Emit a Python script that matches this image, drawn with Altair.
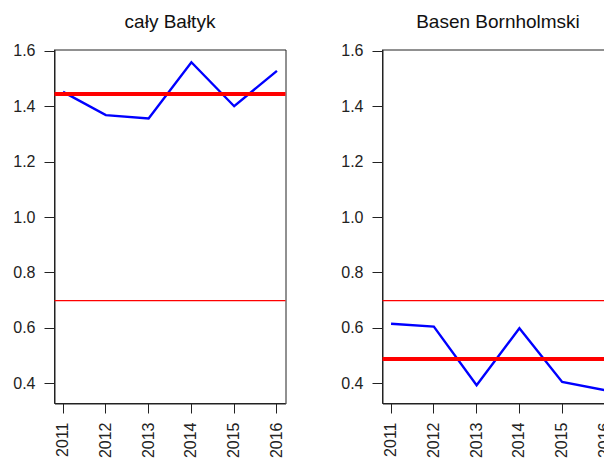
import altair as alt
import pandas as pd

years = [2011, 2012, 2013, 2014, 2015, 2016]
baltyk = [1.454, 1.370, 1.358, 1.561, 1.402, 1.530]
bornholm = [0.616, 0.606, 0.394, 0.600, 0.406, 0.376]
titles = ["cały Bałtyk", "Basen Bornholmski"]
mean_lines = [1.446, 0.489]
threshold = 0.7
y_ticks = [0.4, 0.6, 0.8, 1.0, 1.2, 1.4, 1.6]

FONT = "Liberation Sans"
ydom = [0.328, 1.607]
xdom = [2010.8, 2016.2]


def panel(title, values, mean_val):
    df = pd.DataFrame({"rok": years, "wartosc": values})
    x = alt.X("rok:Q", scale=alt.Scale(domain=xdom, nice=False, zero=False),
              axis=alt.Axis(values=years, format="d", labelAngle=270, title=None))
    y = alt.Y("wartosc:Q", scale=alt.Scale(domain=ydom, nice=False, zero=False),
              axis=alt.Axis(values=y_ticks, format=".1f", title=None))
    line = alt.Chart(df).mark_line(color="#0000FF", strokeWidth=2.4, clip=True).encode(x=x, y=y)
    thr = alt.Chart(pd.DataFrame({"v": [threshold]})).mark_rule(
        color="#FF0000", strokeWidth=1.2).encode(y=alt.Y("v:Q", scale=alt.Scale(domain=ydom, nice=False, zero=False)))
    mean = alt.Chart(pd.DataFrame({"v": [mean_val]})).mark_rule(
        color="#FF0000", strokeWidth=4).encode(y=alt.Y("v:Q", scale=alt.Scale(domain=ydom, nice=False, zero=False)))
    return alt.layer(thr, line, mean).properties(
        width=231, height=354,
        title=alt.TitleParams(title, fontSize=19, fontWeight="normal", font=FONT,
                              color="#111111", offset=11, anchor="middle"))


chart = alt.hconcat(
    panel(titles[0], baltyk, mean_lines[0]),
    panel(titles[1], bornholm, mean_lines[1]),
    spacing=52,
).properties(
    autosize=alt.AutoSizeParams(type="none"),
    padding={"left": 46.5, "top": 41.5, "right": 549.5, "bottom": 401.5},
).configure(
    background="white"
).configure_view(
    stroke="#222222", strokeWidth=1
).configure_axis(
    grid=False, labelFont=FONT, labelFontSize=16, labelColor="#222222",
    tickSize=10, labelPadding=9, domainColor="#222222", tickColor="#222222",
    domainWidth=1, tickWidth=1, translate=0
)

chart.save("out.html", embed_options={"renderer": "svg", "actions": False})
